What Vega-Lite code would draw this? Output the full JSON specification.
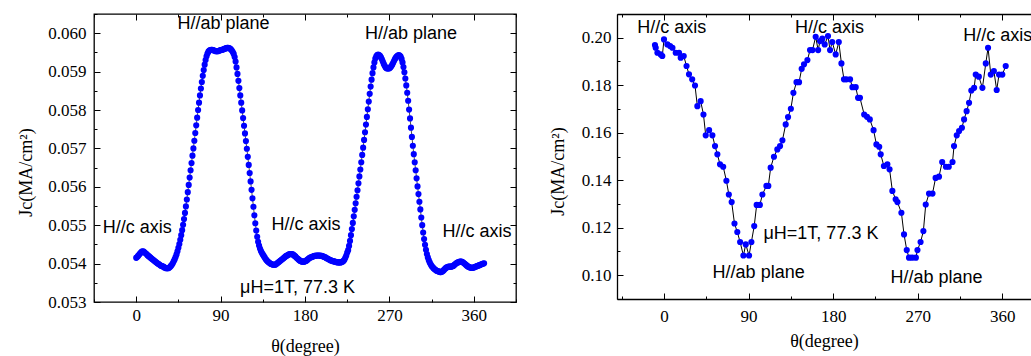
{
"$schema": "https://vega.github.io/schema/vega-lite/v6.json",
"padding": {"left": 17, "top": 12, "right": 0, "bottom": 0},
"background": "white",
"spacing": 31,
"config": {
  "view": {"stroke": null},
  "axis": {"labelFont": "Liberation Serif", "labelFontSize": 17, "titleFont": "Liberation Serif", "titleFontSize": 18, "titleFontWeight": "normal", "labelColor": "black", "titleColor": "black", "domainColor": "black", "tickColor": "black", "grid": false, "tickWidth": 1, "domainWidth": 1.3}
},
"datasets": {
"left": [
{"t":0,"j":0.05415},{"t":1,"j":0.05417},{"t":2,"j":0.0542},{"t":3,"j":0.05423},{"t":4,"j":0.05426},{"t":5,"j":0.05429},{"t":6,"j":0.05431},{"t":7,"j":0.05432},{"t":8,"j":0.05431},{"t":9,"j":0.05429},
{"t":10,"j":0.05427},{"t":11,"j":0.05425},{"t":12,"j":0.05422},{"t":13,"j":0.0542},{"t":14,"j":0.05418},{"t":15,"j":0.05416},{"t":16,"j":0.05414},{"t":17,"j":0.05412},{"t":18,"j":0.0541},{"t":19,"j":0.05408},
{"t":20,"j":0.05406},{"t":21,"j":0.05404},{"t":22,"j":0.05402},{"t":23,"j":0.054},{"t":24,"j":0.05399},{"t":25,"j":0.05397},{"t":26,"j":0.05395},{"t":27,"j":0.05394},{"t":28,"j":0.05393},{"t":29,"j":0.05392},
{"t":30,"j":0.0539},{"t":31,"j":0.05389},{"t":32,"j":0.05388},{"t":33,"j":0.05388},{"t":34,"j":0.05388},{"t":35,"j":0.05389},{"t":36,"j":0.05391},{"t":37,"j":0.05394},{"t":38,"j":0.05397},{"t":39,"j":0.05401},
{"t":40,"j":0.05406},{"t":41,"j":0.05411},{"t":42,"j":0.05417},{"t":43,"j":0.05424},{"t":44,"j":0.05432},{"t":45,"j":0.05441},{"t":46,"j":0.05451},{"t":47,"j":0.05462},{"t":48,"j":0.05474},{"t":49,"j":0.05487},
{"t":50,"j":0.05501},{"t":51,"j":0.05516},{"t":52,"j":0.05532},{"t":53,"j":0.05549},{"t":54,"j":0.05567},{"t":55,"j":0.05586},{"t":56,"j":0.05605},{"t":57,"j":0.05624},{"t":58,"j":0.05643},{"t":59,"j":0.05662},
{"t":60,"j":0.05681},{"t":61,"j":0.057},{"t":62,"j":0.0572},{"t":63,"j":0.0574},{"t":64,"j":0.0576},{"t":65,"j":0.0578},{"t":66,"j":0.058},{"t":67,"j":0.05819},{"t":68,"j":0.05838},{"t":69,"j":0.05856},
{"t":70,"j":0.05873},{"t":71,"j":0.05889},{"t":72,"j":0.05904},{"t":73,"j":0.05918},{"t":74,"j":0.0593},{"t":75,"j":0.0594},{"t":76,"j":0.05947},{"t":77,"j":0.05952},{"t":78,"j":0.05955},{"t":79,"j":0.05956},
{"t":80,"j":0.05957},{"t":81,"j":0.05957},{"t":82,"j":0.05956},{"t":83,"j":0.05955},{"t":84,"j":0.05954},{"t":85,"j":0.05953},{"t":86,"j":0.05953},{"t":87,"j":0.05953},{"t":88,"j":0.05954},{"t":89,"j":0.05955},
{"t":90,"j":0.05956},{"t":91,"j":0.05957},{"t":92,"j":0.05957},{"t":93,"j":0.05958},{"t":94,"j":0.05959},{"t":95,"j":0.0596},{"t":96,"j":0.05961},{"t":97,"j":0.05962},{"t":98,"j":0.05962},{"t":99,"j":0.05961},
{"t":100,"j":0.0596},{"t":101,"j":0.05958},{"t":102,"j":0.05955},{"t":103,"j":0.05951},{"t":104,"j":0.05946},{"t":105,"j":0.05938},{"t":106,"j":0.05926},{"t":107,"j":0.05911},{"t":108,"j":0.05894},{"t":109,"j":0.05876},
{"t":110,"j":0.05857},{"t":111,"j":0.05838},{"t":112,"j":0.05819},{"t":113,"j":0.05799},{"t":114,"j":0.05779},{"t":115,"j":0.05759},{"t":116,"j":0.05739},{"t":117,"j":0.05719},{"t":118,"j":0.05699},{"t":119,"j":0.05678},
{"t":120,"j":0.05657},{"t":121,"j":0.05636},{"t":122,"j":0.05614},{"t":123,"j":0.05592},{"t":124,"j":0.0557},{"t":125,"j":0.05548},{"t":126,"j":0.05526},{"t":127,"j":0.05505},{"t":128,"j":0.05486},{"t":129,"j":0.0547},
{"t":130,"j":0.05457},{"t":131,"j":0.05447},{"t":132,"j":0.05439},{"t":133,"j":0.05433},{"t":134,"j":0.05428},{"t":135,"j":0.05424},{"t":136,"j":0.0542},{"t":137,"j":0.05416},{"t":138,"j":0.05412},{"t":139,"j":0.05409},
{"t":140,"j":0.05406},{"t":141,"j":0.05404},{"t":142,"j":0.05402},{"t":143,"j":0.054},{"t":144,"j":0.05399},{"t":145,"j":0.05398},{"t":146,"j":0.05397},{"t":147,"j":0.05397},{"t":148,"j":0.05397},{"t":149,"j":0.05398},
{"t":150,"j":0.054},{"t":151,"j":0.05402},{"t":152,"j":0.05404},{"t":153,"j":0.05406},{"t":154,"j":0.05408},{"t":155,"j":0.0541},{"t":156,"j":0.05412},{"t":157,"j":0.05414},{"t":158,"j":0.05416},{"t":159,"j":0.05418},
{"t":160,"j":0.0542},{"t":161,"j":0.05421},{"t":162,"j":0.05423},{"t":163,"j":0.05424},{"t":164,"j":0.05425},{"t":165,"j":0.05425},{"t":166,"j":0.05425},{"t":167,"j":0.05424},{"t":168,"j":0.05422},{"t":169,"j":0.0542},
{"t":170,"j":0.05418},{"t":171,"j":0.05415},{"t":172,"j":0.05413},{"t":173,"j":0.05411},{"t":174,"j":0.05409},{"t":175,"j":0.05407},{"t":176,"j":0.05406},{"t":177,"j":0.05405},{"t":178,"j":0.05405},{"t":179,"j":0.05405},
{"t":180,"j":0.05406},{"t":181,"j":0.05407},{"t":182,"j":0.05409},{"t":183,"j":0.05411},{"t":184,"j":0.05413},{"t":185,"j":0.05415},{"t":186,"j":0.05416},{"t":187,"j":0.05417},{"t":188,"j":0.05418},{"t":189,"j":0.05419},
{"t":190,"j":0.0542},{"t":191,"j":0.0542},{"t":192,"j":0.05421},{"t":193,"j":0.05421},{"t":194,"j":0.05421},{"t":195,"j":0.05421},{"t":196,"j":0.05421},{"t":197,"j":0.0542},{"t":198,"j":0.0542},{"t":199,"j":0.05419},
{"t":200,"j":0.05418},{"t":201,"j":0.05417},{"t":202,"j":0.05416},{"t":203,"j":0.05414},{"t":204,"j":0.05413},{"t":205,"j":0.05412},{"t":206,"j":0.0541},{"t":207,"j":0.05409},{"t":208,"j":0.05408},{"t":209,"j":0.05407},
{"t":210,"j":0.05406},{"t":211,"j":0.05406},{"t":212,"j":0.05405},{"t":213,"j":0.05404},{"t":214,"j":0.05404},{"t":215,"j":0.05403},{"t":216,"j":0.05403},{"t":217,"j":0.05403},{"t":218,"j":0.05403},{"t":219,"j":0.05404},
{"t":220,"j":0.05405},{"t":221,"j":0.05407},{"t":222,"j":0.0541},{"t":223,"j":0.05415},{"t":224,"j":0.05421},{"t":225,"j":0.05429},{"t":226,"j":0.05435},{"t":227,"j":0.05446},{"t":228,"j":0.05459},{"t":229,"j":0.05474},
{"t":230,"j":0.0549},{"t":231,"j":0.05506},{"t":232,"j":0.05523},{"t":233,"j":0.0554},{"t":234,"j":0.05557},{"t":235,"j":0.05574},{"t":236,"j":0.05591},{"t":237,"j":0.05609},{"t":238,"j":0.05627},{"t":239,"j":0.05645},
{"t":240,"j":0.05664},{"t":241,"j":0.05683},{"t":242,"j":0.05702},{"t":243,"j":0.05722},{"t":244,"j":0.05742},{"t":245,"j":0.05762},{"t":246,"j":0.05782},{"t":247,"j":0.05802},{"t":248,"j":0.05822},{"t":249,"j":0.05842},
{"t":250,"j":0.05861},{"t":251,"j":0.05879},{"t":252,"j":0.05896},{"t":253,"j":0.05911},{"t":254,"j":0.05924},{"t":255,"j":0.05934},{"t":256,"j":0.0594},{"t":257,"j":0.05943},{"t":258,"j":0.05944},{"t":259,"j":0.05943},
{"t":260,"j":0.05941},{"t":261,"j":0.05937},{"t":262,"j":0.05932},{"t":263,"j":0.05926},{"t":264,"j":0.0592},{"t":265,"j":0.05915},{"t":266,"j":0.05911},{"t":267,"j":0.05909},{"t":268,"j":0.05908},{"t":269,"j":0.05908},
{"t":270,"j":0.05909},{"t":271,"j":0.05911},{"t":272,"j":0.05914},{"t":273,"j":0.05918},{"t":274,"j":0.05923},{"t":275,"j":0.05928},{"t":276,"j":0.05933},{"t":277,"j":0.05937},{"t":278,"j":0.0594},{"t":279,"j":0.05942},
{"t":280,"j":0.05943},{"t":281,"j":0.05942},{"t":282,"j":0.05939},{"t":283,"j":0.05933},{"t":284,"j":0.05924},{"t":285,"j":0.05912},{"t":286,"j":0.05898},{"t":287,"j":0.05882},{"t":288,"j":0.05864},{"t":289,"j":0.05845},
{"t":290,"j":0.05824},{"t":291,"j":0.05801},{"t":292,"j":0.05778},{"t":293,"j":0.05754},{"t":294,"j":0.0573},{"t":295,"j":0.05707},{"t":296,"j":0.05685},{"t":297,"j":0.05664},{"t":298,"j":0.05643},{"t":299,"j":0.05622},
{"t":300,"j":0.05601},{"t":301,"j":0.05581},{"t":302,"j":0.05561},{"t":303,"j":0.05541},{"t":304,"j":0.0552},{"t":305,"j":0.055},{"t":306,"j":0.05481},{"t":307,"j":0.05464},{"t":308,"j":0.05449},{"t":309,"j":0.05436},
{"t":310,"j":0.05425},{"t":311,"j":0.05416},{"t":312,"j":0.05409},{"t":313,"j":0.05403},{"t":314,"j":0.05398},{"t":315,"j":0.05394},{"t":316,"j":0.05391},{"t":317,"j":0.05388},{"t":318,"j":0.05386},{"t":319,"j":0.05384},
{"t":320,"j":0.05382},{"t":321,"j":0.05381},{"t":322,"j":0.0538},{"t":323,"j":0.05379},{"t":324,"j":0.05378},{"t":325,"j":0.05378},{"t":326,"j":0.05379},{"t":327,"j":0.05381},{"t":328,"j":0.05383},{"t":329,"j":0.05386},
{"t":330,"j":0.05388},{"t":331,"j":0.0539},{"t":332,"j":0.05391},{"t":333,"j":0.05392},{"t":334,"j":0.05392},{"t":335,"j":0.05392},{"t":336,"j":0.05392},{"t":337,"j":0.05393},{"t":338,"j":0.05394},{"t":339,"j":0.05396},
{"t":340,"j":0.05398},{"t":341,"j":0.054},{"t":342,"j":0.05402},{"t":343,"j":0.05403},{"t":344,"j":0.05404},{"t":345,"j":0.05405},{"t":346,"j":0.05405},{"t":347,"j":0.05405},{"t":348,"j":0.05404},{"t":349,"j":0.05402},
{"t":350,"j":0.054},{"t":351,"j":0.05398},{"t":352,"j":0.05396},{"t":353,"j":0.05394},{"t":354,"j":0.05392},{"t":355,"j":0.05391},{"t":356,"j":0.0539},{"t":357,"j":0.05389},{"t":358,"j":0.05389},{"t":359,"j":0.05389},
{"t":360,"j":0.0539},{"t":361,"j":0.05391},{"t":362,"j":0.05392},{"t":363,"j":0.05393},{"t":364,"j":0.05394},{"t":365,"j":0.05395},{"t":366,"j":0.05396},{"t":367,"j":0.05397},{"t":368,"j":0.05398},{"t":369,"j":0.05399},
{"t":370,"j":0.054},{"t":371,"j":0.05401}
],
"right": [
{"t":-9.6,"j":0.1969},{"t":-8.8,"j":0.1958},{"t":-7,"j":0.1937},{"t":-3.5,"j":0.193},{"t":-1.8,"j":0.1923},{"t":0,"j":0.1993},{"t":3.6,"j":0.1972},{"t":6.5,"j":0.1965},{"t":9,"j":0.1958},{"t":12.5,"j":0.1937},
{"t":16,"j":0.1937},{"t":17.8,"j":0.1916},{"t":21,"j":0.1923},{"t":24,"j":0.1881},{"t":26.6,"j":0.1846},{"t":30,"j":0.1825},{"t":33,"j":0.1799},{"t":35.5,"j":0.1712},{"t":39,"j":0.1733},{"t":42,"j":0.1677},
{"t":44.4,"j":0.1589},{"t":48,"j":0.1611},{"t":51.5,"j":0.1589},{"t":54.3,"j":0.1544},{"t":56.8,"j":0.1509},{"t":59.6,"j":0.1467},{"t":63,"j":0.1457},{"t":66.4,"j":0.1398},{"t":69,"j":0.134},{"t":72,"j":0.1308},
{"t":75,"j":0.1218},{"t":78,"j":0.1182},{"t":81,"j":0.114},{"t":84.5,"j":0.1083},{"t":87,"j":0.113},{"t":90.5,"j":0.1083},{"t":93,"j":0.114},{"t":96,"j":0.1207},{"t":98.6,"j":0.1296},{"t":102,"j":0.1296},
{"t":104.7,"j":0.134},{"t":109,"j":0.1376},{"t":111,"j":0.1376},{"t":113.5,"j":0.1453},{"t":117,"j":0.1499},{"t":120.6,"j":0.153},{"t":123.5,"j":0.1544},{"t":126,"j":0.1568},{"t":129.5,"j":0.1635},{"t":132,"j":0.1666},
{"t":135,"j":0.1701},{"t":137.7,"j":0.1768},{"t":141,"j":0.1813},{"t":143.7,"j":0.1813},{"t":146.5,"j":0.1869},{"t":149,"j":0.1888},{"t":152.6,"j":0.1906},{"t":155.4,"j":0.1948},{"t":158,"j":0.1948},{"t":161.4,"j":0.2004},
{"t":164,"j":0.1948},{"t":166,"j":0.1986},{"t":168.5,"j":0.1996},{"t":171,"j":0.1972},{"t":174.5,"j":0.2007},{"t":176.7,"j":0.1948},{"t":179,"j":0.1982},{"t":182.7,"j":0.193},{"t":186,"j":0.1982},{"t":188.8,"j":0.1892},
{"t":191.5,"j":0.1825},{"t":194,"j":0.1825},{"t":198,"j":0.1825},{"t":200.5,"j":0.1792},{"t":204,"j":0.1792},{"t":206.5,"j":0.1747},{"t":208.5,"j":0.1747},{"t":213,"j":0.1677},{"t":216,"j":0.1667},{"t":219,"j":0.1656},
{"t":223,"j":0.1611},{"t":226,"j":0.1551},{"t":229,"j":0.1541},{"t":230.6,"j":0.1509},{"t":234,"j":0.146},{"t":237.7,"j":0.1467},{"t":240,"j":0.1446},{"t":243,"j":0.1355},{"t":246.5,"j":0.132},{"t":248.4,"j":0.1308},
{"t":252.6,"j":0.1263},{"t":255.4,"j":0.1172},{"t":258.3,"j":0.1106},{"t":260.7,"j":0.1074},{"t":264,"j":0.1074},{"t":268,"j":0.1074},{"t":269.7,"j":0.1106},{"t":273,"j":0.114},{"t":276,"j":0.1186},{"t":278.5,"j":0.1298},
{"t":282,"j":0.1344},{"t":285.7,"j":0.1344},{"t":289,"j":0.141},{"t":292.6,"j":0.1415},{"t":296,"j":0.1477},{"t":300,"j":0.1457},{"t":303,"j":0.1457},{"t":307,"j":0.1477},{"t":308.6,"j":0.1544},{"t":311.5,"j":0.1589},
{"t":314,"j":0.1607},{"t":317,"j":0.1621},{"t":319.3,"j":0.1656},{"t":322,"j":0.1691},{"t":324.6,"j":0.1726},{"t":327,"j":0.1778},{"t":330,"j":0.1789},{"t":331.7,"j":0.1845},{"t":335,"j":0.1836},{"t":338.8,"j":0.1789},
{"t":342.4,"j":0.1892},{"t":344.8,"j":0.1958},{"t":347.7,"j":0.1845},{"t":351,"j":0.186},{"t":354,"j":0.178},{"t":356.5,"j":0.1845},{"t":360,"j":0.1845},{"t":363.6,"j":0.1881}
],
"leftText": [
{"t":93,"j":0.06023,"label":"H//ab plane"},
{"t":293,"j":0.05997,"label":"H//ab plane"},
{"t":1,"j":0.05492,"label":"H//c axis"},
{"t":181,"j":0.055,"label":"H//c axis"},
{"t":363.5,"j":0.05483,"label":"H//c axis"},
{"t":172,"j":0.05337,"label":"μH=1T, 77.3 K"}
],
"rightText": [
{"t":8.3,"j":0.2042,"label":"H//c axis"},
{"t":176,"j":0.2042,"label":"H//c axis"},
{"t":355,"j":0.2008,"label":"H//c axis"},
{"t":167,"j":0.1172,"label":"μH=1T, 77.3 K"},
{"t":100.7,"j":0.101,"label":"H//ab plane"},
{"t":290,"j":0.0989,"label":"H//ab plane"}
]
},
"hconcat": [
{
 "width": 422, "height": 288,
 "view": {"stroke": "black", "strokeWidth": 1.3},
 "resolve": {"axis": {"x": "independent", "y": "independent"}},
 "layer": [
  {"data": {"name": "left"},
   "mark": {"type": "line", "color": "black", "strokeWidth": 0.7},
   "encoding": {
    "x": {"field": "t", "type": "quantitative", "scale": {"domain": [-45, 405], "nice": false, "zero": false},
      "axis": {"orient": "bottom", "domain": false, "values": [0,90,180,270,360], "labelFont": "Liberation Serif", "tickSize": -6, "labelPadding": 11, "title": "θ(degree)", "titleFont": "Liberation Serif", "titlePadding": 14}},
    "y": {"field": "j", "type": "quantitative", "scale": {"domain": [0.053, 0.0605], "nice": false, "zero": false},
      "axis": {"orient": "left", "domain": false, "values": [0.053,0.054,0.055,0.056,0.057,0.058,0.059,0.06], "format": ".3f", "labelFont": "Liberation Serif", "tickSize": -6, "labelPadding": 14, "title": "Jc(MA/cm²)", "titleFont": "Liberation Serif", "titlePadding": 12, "titleY": 158}}
   }},
  {"data": {"name": "left"},
   "mark": {"type": "circle", "size": 38, "color": "#0000ff", "opacity": 1},
   "encoding": {
    "x": {"field": "t", "type": "quantitative", "scale": {"domain": [-45, 405], "nice": false, "zero": false}, "axis": null},
    "y": {"field": "j", "type": "quantitative", "scale": {"domain": [0.053, 0.0605], "nice": false, "zero": false}, "axis": null}
   }},
  {"data": {"name": "leftText"},
   "mark": {"type": "text", "font": "Liberation Sans", "fontSize": 18, "color": "black", "align": "center", "baseline": "middle"},
   "encoding": {
    "x": {"field": "t", "type": "quantitative", "scale": {"domain": [-45, 405], "nice": false, "zero": false}, "axis": null},
    "y": {"field": "j", "type": "quantitative", "scale": {"domain": [0.053, 0.0605], "nice": false, "zero": false}, "axis": null},
    "text": {"field": "label"}
   }},
  {"data": {"name": "left"},
   "mark": {"type": "point", "opacity": 0},
   "encoding": {
    "x": {"field": "t", "type": "quantitative", "scale": {"domain": [-45, 405], "nice": false, "zero": false},
      "axis": {"orient": "bottom", "domain": false, "labels": false, "title": null, "values": [-45,45,135,225,315,405], "tickSize": -3}},
    "y": {"field": "j", "type": "quantitative", "scale": {"domain": [0.053, 0.0605], "nice": false, "zero": false},
      "axis": {"orient": "left", "domain": false, "labels": false, "title": null, "values": [0.0535,0.0545,0.0555,0.0565,0.0575,0.0585,0.0595,0.0605], "tickSize": -3}}
   }},
  {"data": {"name": "left"},
   "mark": {"type": "point", "opacity": 0},
   "encoding": {
    "x": {"field": "t", "type": "quantitative", "scale": {"domain": [-45, 405], "nice": false, "zero": false},
      "axis": {"orient": "top", "domain": false, "labels": false, "title": null, "values": [0,90,180,270,360], "tickSize": -6}},
    "y": {"field": "j", "type": "quantitative", "scale": {"domain": [0.053, 0.0605], "nice": false, "zero": false},
      "axis": {"orient": "right", "domain": false, "labels": false, "title": null, "values": [0.053,0.054,0.055,0.056,0.057,0.058,0.059,0.06], "tickSize": -6}}
   }},
  {"data": {"name": "left"},
   "mark": {"type": "point", "opacity": 0},
   "encoding": {
    "x": {"field": "t", "type": "quantitative", "scale": {"domain": [-45, 405], "nice": false, "zero": false},
      "axis": {"orient": "top", "domain": false, "labels": false, "title": null, "values": [-45,45,135,225,315,405], "tickSize": -3}},
    "y": {"field": "j", "type": "quantitative", "scale": {"domain": [0.053, 0.0605], "nice": false, "zero": false},
      "axis": {"orient": "right", "domain": false, "labels": false, "title": null, "values": [0.0535,0.0545,0.0555,0.0565,0.0575,0.0585,0.0595,0.0605], "tickSize": -3}}
   }}
 ]
},
{
 "width": 414, "height": 285,
 "resolve": {"axis": {"x": "independent", "y": "independent"}},
 "layer": [
  {"data": {"name": "right"},
   "mark": {"type": "line", "color": "black", "strokeWidth": 1},
   "encoding": {
    "x": {"field": "t", "type": "quantitative", "scale": {"domain": [-50, 390.5], "nice": false, "zero": false},
      "axis": {"orient": "bottom", "values": [0,90,180,270,360], "labelFont": "Liberation Serif", "tickSize": -6, "labelPadding": 15, "title": "θ(degree)", "titleFont": "Liberation Serif", "titlePadding": 8}},
    "y": {"field": "j", "type": "quantitative", "scale": {"domain": [0.09, 0.21], "nice": false, "zero": false},
      "axis": {"orient": "left", "values": [0.1,0.12,0.14,0.16,0.18,0.2], "format": ".2f", "labelFont": "Liberation Serif", "tickSize": -6, "labelPadding": 12, "title": "Jc(MA/cm²)", "titleFont": "Liberation Serif", "titlePadding": 14, "titleY": 157}}
   }},
  {"data": {"name": "right"},
   "mark": {"type": "circle", "size": 38, "color": "#0000ff", "opacity": 1},
   "encoding": {
    "x": {"field": "t", "type": "quantitative", "scale": {"domain": [-50, 390.5], "nice": false, "zero": false}, "axis": null},
    "y": {"field": "j", "type": "quantitative", "scale": {"domain": [0.09, 0.21], "nice": false, "zero": false}, "axis": null}
   }},
  {"data": {"name": "rightText"},
   "mark": {"type": "text", "font": "Liberation Sans", "fontSize": 18, "color": "black", "align": "center", "baseline": "middle", "clip": true},
   "encoding": {
    "x": {"field": "t", "type": "quantitative", "scale": {"domain": [-50, 390.5], "nice": false, "zero": false}, "axis": null},
    "y": {"field": "j", "type": "quantitative", "scale": {"domain": [0.09, 0.21], "nice": false, "zero": false}, "axis": null},
    "text": {"field": "label"}
   }},
  {"data": {"name": "right"},
   "mark": {"type": "point", "opacity": 0},
   "encoding": {
    "x": {"field": "t", "type": "quantitative", "scale": {"domain": [-50, 390.5], "nice": false, "zero": false},
      "axis": {"orient": "bottom", "domain": false, "labels": false, "title": null, "values": [-45,45,135,225,315], "tickSize": -3}},
    "y": {"field": "j", "type": "quantitative", "scale": {"domain": [0.09, 0.21], "nice": false, "zero": false},
      "axis": {"orient": "left", "domain": false, "labels": false, "title": null, "values": [0.09,0.11,0.13,0.15,0.17,0.19,0.21], "tickSize": -3}}
   }},
  {"data": {"name": "right"},
   "mark": {"type": "point", "opacity": 0},
   "encoding": {
    "x": {"field": "t", "type": "quantitative", "scale": {"domain": [-50, 390.5], "nice": false, "zero": false},
      "axis": {"orient": "top", "labels": false, "title": null, "values": [0,90,180,270,360], "tickSize": -6}},
    "y": {"field": "j", "type": "quantitative", "scale": {"domain": [0.09, 0.21], "nice": false, "zero": false}, "axis": null}
   }},
  {"data": {"name": "right"},
   "mark": {"type": "point", "opacity": 0},
   "encoding": {
    "x": {"field": "t", "type": "quantitative", "scale": {"domain": [-50, 390.5], "nice": false, "zero": false},
      "axis": {"orient": "top", "domain": false, "labels": false, "title": null, "values": [-45,45,135,225,315], "tickSize": -3}},
    "y": {"field": "j", "type": "quantitative", "scale": {"domain": [0.09, 0.21], "nice": false, "zero": false}, "axis": null}
   }}
 ]
}
]
}
